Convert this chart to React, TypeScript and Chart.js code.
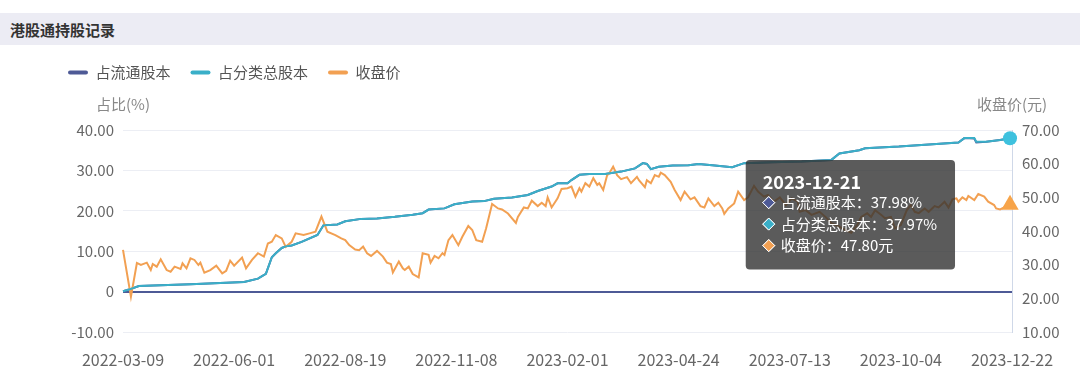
import React, { useEffect, useRef } from "react";
import { Chart, registerables, Tooltip } from "chart.js";

Chart.register(...registerables);

const FONT = "'Noto Sans CJK SC', 'Noto Sans', sans-serif";
Chart.defaults.font.family = FONT;

const pageTitle = "港股通持股记录";
const leftAxisName = "占比(%)";
const rightAxisName = "收盘价(元)";

// x tick labels (one every 56 trading days)
const tickLabels = [
  "2022-03-09", "2022-06-01", "2022-08-19", "2022-11-08", "2023-02-01",
  "2023-04-24", "2023-07-13", "2023-10-04", "2023-12-22",
];
const daysPerTick = 56;
const lastTradeDay = 447;
const lastTradeDate = "2023-12-21";

const seriesNames = ["占流通股本", "占分类总股本", "收盘价"];
const seriesColors = ["#4e5a96", "#3aafc8", "#f2a052"];

// holding ratio samples: trading-day index
const holdDays = [
  0, 3, 8, 19, 34, 49, 61, 68, 72, 75,
  77, 80, 82, 85, 90, 98, 101, 108, 112, 120,
  128, 137, 146, 151, 154, 162, 167, 176, 182, 187,
  196, 204, 209, 216, 219, 224, 226, 230, 235, 243,
  251, 258, 262, 264, 266, 270, 277, 285, 290, 297,
  307, 313, 327, 342, 357, 361, 371, 374, 391, 408,
  421, 424, 429, 430, 435, 442, 447,
];
// 占分类总股本 (%)
const classPct = [
  0.1, 0.5, 1.4, 1.6, 1.8, 2.1, 2.4, 3.2, 4.4, 8.5,
  9.5, 10.8, 11.2, 11.4, 12.3, 14.0, 16.4, 16.6, 17.4, 18.0,
  18.1, 18.5, 19.0, 19.4, 20.3, 20.6, 21.6, 22.3, 22.4, 23.0,
  23.3, 23.9, 24.9, 26.0, 26.8, 26.8, 27.6, 28.9, 29.1, 29.1,
  29.7, 30.5, 31.8, 31.6, 30.3, 30.9, 31.2, 31.3, 31.6, 31.3,
  30.8, 31.8, 32.0, 32.2, 32.6, 34.2, 35.0, 35.5, 35.9, 36.5,
  36.9, 38.0, 38.0, 37.1, 37.1, 37.5, 37.97,
];
// 占流通股本 (%)
const floatPct = [
  0.1, 0.5, 1.4, 1.6, 1.8, 2.1, 2.4, 3.2, 4.4, 8.5,
  9.5, 10.8, 11.2, 11.4, 12.3, 14.0, 16.4, 16.6, 17.4, 18.0,
  18.1, 18.5, 19.0, 19.4, 20.3, 20.6, 21.6, 22.3, 22.4, 23.0,
  23.3, 23.9, 24.9, 26.0, 26.8, 26.8, 27.6, 28.9, 29.1, 29.1,
  29.7, 30.5, 31.8, 31.6, 30.3, 30.9, 31.2, 31.3, 31.6, 31.3,
  30.8, 31.8, 32.0, 32.2, 32.6, 34.2, 35.0, 35.5, 35.9, 36.5,
  36.9, 38.0, 37.9, 36.9, 37.1, 37.5, 37.98,
];

// close price samples: trading-day index
const closeDays = [
  0, 4, 7, 9, 12, 14, 15, 17, 19, 22,
  24, 26, 29, 30, 32, 34, 36, 38, 39, 41,
  44, 47, 50, 52, 54, 56, 60, 62, 65, 68,
  71, 73, 75, 77, 80, 82, 85, 87, 91, 94,
  97, 100, 102, 103, 107, 110, 112, 114, 117, 119,
  121, 123, 125, 128, 131, 133, 135, 136, 139, 141,
  142, 144, 146, 149, 151, 154, 155, 157, 159, 161,
  162, 164, 166, 169, 171, 174, 176, 178, 181, 183,
  186, 189, 191, 194, 198, 199, 202, 204, 206, 209,
  211, 213, 214, 216, 219, 221, 224, 226, 228, 230,
  231, 233, 235, 237, 239, 240, 242, 244, 245, 247,
  249, 251, 254, 256, 259, 260, 263, 264, 266, 268,
  270, 271, 273, 276, 278, 281, 283, 286, 288, 291,
  293, 295, 298, 300, 302, 303, 305, 308, 310, 313,
  315, 318, 320, 323, 325, 328, 331, 334, 337, 340,
  341, 344, 347, 351, 354, 357, 361, 364, 367, 370,
  372, 375, 377, 379, 382, 384, 387, 389, 392, 395,
  397, 399, 401, 404, 406, 409, 411, 414, 416, 418,
  420, 421, 423, 425, 426, 429, 431, 434, 436, 439,
  440, 442, 444, 447,
];
// 收盘价 (元)
const closePrice = [
  34.4, 20.5, 30.5, 29.9, 30.6, 28.4, 30.2, 29.4, 31.6, 28.4,
  27.9, 29.4, 28.7, 30.4, 28.9, 31.9, 31.4, 29.9, 30.6, 27.6,
  28.4, 29.7, 27.4, 28.2, 31.2, 29.7, 32.1, 28.9, 31.4, 33.4,
  32.4, 36.3, 36.8, 38.8, 37.8, 35.3, 36.8, 39.3, 38.8, 39.3,
  39.8, 44.3, 41.3, 39.8, 38.8, 37.8, 37.3, 35.8, 34.5, 34.3,
  35.4, 33.4, 32.6, 34.1, 32.4, 30.6, 30.2, 27.7, 30.9, 28.9,
  28.4, 29.4, 27.2, 26.2, 33.4, 32.9, 30.6, 32.6, 31.9, 33.4,
  32.9, 37.3, 38.8, 35.8, 38.3, 41.5, 40.3, 37.3, 36.8, 40.8,
  48.0, 46.7, 46.4, 45.2, 42.4, 44.2, 47.0, 46.7, 49.0, 47.4,
  48.4, 47.4, 50.0, 47.0, 49.7, 52.5, 52.7, 53.2, 50.2, 52.7,
  51.7, 54.2, 53.2, 55.7, 53.7, 54.2, 52.2, 56.6, 57.1, 59.1,
  56.6, 55.4, 56.0, 54.2, 56.1, 55.1, 53.0, 55.1, 54.2, 56.6,
  56.1, 57.3, 56.6, 54.6, 52.2, 49.2, 51.7, 49.4, 50.0, 47.4,
  47.0, 49.7, 47.4, 48.4, 46.7, 45.1, 46.7, 48.2, 51.7, 49.2,
  50.0, 53.4, 51.7, 50.2, 50.7, 48.7, 50.0, 47.7, 49.7, 48.7,
  45.7, 46.2, 44.8, 45.7, 44.2, 42.3, 41.3, 40.3, 39.5, 41.8,
  44.2, 45.3, 44.2, 46.2, 44.8, 43.8, 44.2, 40.8, 41.8, 46.2,
  47.7, 45.7, 45.3, 46.7, 45.7, 47.4, 47.0, 48.7, 47.0, 49.4,
  49.7, 48.7, 50.0, 49.2, 50.4, 49.2, 51.0, 50.2, 48.7, 47.7,
  46.7, 46.4, 47.0, 47.8,
];

const pctTicks = { min: -10, max: 40, step: 10 };
const priceTicks = { min: 10, max: 70, step: 10 };

(Tooltip as any).positioners.besidePoint = function (items: any[]) {
  if (!items.length) return false;
  const ca = this.chart.chartArea;
  const el = items[0].element;
  return { x: el.x - 59, y: ca.top + 30, xAlign: "right", yAlign: "top" };
};

const dateForDay = (d: number) => {
  if (d === lastTradeDay) return lastTradeDate;
  if (d % daysPerTick === 0) return tickLabels[d / daysPerTick];
  return "";
};

const axisNamesPlugin = {
  id: "axisNames",
  afterDraw(chart: any) {
    const { ctx, chartArea } = chart;
    ctx.save();
    ctx.font = `15px ${FONT}`;
    ctx.fillStyle = "#888";
    ctx.textAlign = "center";
    ctx.textBaseline = "middle";
    ctx.fillText(leftAxisName, chartArea.left, chartArea.top - 26);
    ctx.fillText(rightAxisName, chartArea.right, chartArea.top - 26);
    ctx.restore();
  },
};

const legendSpacerPlugin = {
  id: "legendSpacer",
  beforeInit(chart: any) {
    const legend = chart.legend;
    if (!legend) return;
    const fit = legend.fit;
    legend.fit = function () {
      fit.call(this);
      this.height += 40;
    };
  },
};

export default function App() {
  const ref = useRef<HTMLCanvasElement | null>(null);

  useEffect(() => {
    if (!ref.current) return;
    const toPts = (xs: number[], ys: number[]) => xs.map((x, i) => ({ x, y: ys[i] }));
    const chart = new Chart(ref.current, {
      type: "line",
      data: {
        datasets: [
          {
            label: seriesNames[0],
            data: toPts(holdDays, floatPct),
            yAxisID: "y",
            borderColor: seriesColors[0],
            backgroundColor: seriesColors[0],
            borderWidth: 2,
            pointRadius: 0,
            pointHoverRadius: 0,
            tension: 0,
            clip: false,
            order: 3,
          },
          {
            label: seriesNames[1],
            data: toPts(holdDays, classPct),
            yAxisID: "y",
            borderColor: seriesColors[1],
            backgroundColor: seriesColors[1],
            borderWidth: 2,
            pointRadius: 0,
            pointStyle: "circle",
            pointHoverRadius: 7,
            pointHoverBackgroundColor: "#3ec1de",
            pointHoverBorderWidth: 0,
            tension: 0,
            clip: false,
            order: 1,
          },
          {
            label: seriesNames[2],
            data: toPts(closeDays, closePrice),
            yAxisID: "y2",
            borderColor: seriesColors[2],
            backgroundColor: seriesColors[2],
            borderWidth: 2,
            pointRadius: 0,
            pointStyle: "triangle",
            pointHoverRadius: 10,
            pointHoverBackgroundColor: "#f7a449",
            pointHoverBorderWidth: 0,
            tension: 0,
            clip: false,
            order: 2,
          },
        ] as any,
      },
      options: {
        animation: false,
        responsive: false,
        devicePixelRatio: 1,
        events: [],
        layout: { padding: { left: 48, right: 0, top: 0, bottom: 0 } },
        plugins: {
          legend: {
            display: true,
            position: "top",
            align: "start",
            labels: {
              boxWidth: 20,
              boxHeight: 4,
              padding: 20,
              color: "#555",
              font: { size: 15 },
              useBorderRadius: true,
              borderRadius: 2,
              generateLabels: (c: any) =>
                c.data.datasets.map((ds: any, i: number) => ({
                  text: ds.label,
                  fillStyle: seriesColors[i],
                  strokeStyle: seriesColors[i],
                  lineWidth: 0,
                  hidden: false,
                  datasetIndex: i,
                  borderRadius: 2,
                  fontColor: "#555",
                })),
            },
          },
          tooltip: {
            enabled: true,
            position: "besidePoint" as any,
            xAlign: "right",
            yAlign: "top",
            backgroundColor: "rgba(50,50,50,0.8)",
            titleColor: "#fff",
            bodyColor: "#fff",
            titleFont: { size: 18, weight: "bold" },
            bodyFont: { size: 15 },
            titleMarginBottom: 1,
            bodySpacing: 3.5,
            padding: { top: 11, bottom: 15, left: 17, right: 18 },
            cornerRadius: 4,
            caretSize: 0,
            caretPadding: 0,
            borderWidth: 0,
            displayColors: true,
            usePointStyle: true,
            boxWidth: 12,
            boxHeight: 12,
            boxPadding: 4,
            itemSort: (a: any, b: any) => a.datasetIndex - b.datasetIndex,
            callbacks: {
              title: (items: any[]) => (items.length ? dateForDay(items[0].parsed.x) : ""),
              label: (item: any) =>
                item.datasetIndex === 2
                  ? `${item.dataset.label}：${item.parsed.y.toFixed(2)}元`
                  : `${item.dataset.label}：${item.parsed.y.toFixed(2)}%`,
              labelColor: (item: any) => ({
                borderColor: "#ffffff",
                backgroundColor: seriesColors[item.datasetIndex],
                borderWidth: 1,
              }),
              labelPointStyle: () => ({ pointStyle: "rectRot", rotation: 0 }),
            },
          },
        },
        scales: {
          x: {
            type: "linear",
            min: 0,
            max: daysPerTick * (tickLabels.length - 1),
            grid: { display: false, drawTicks: false },
            border: { display: false },
            ticks: {
              stepSize: daysPerTick,
              autoSkip: false,
              maxRotation: 0,
              padding: 18,
              color: "#666",
              font: { size: 16 },
              callback: (v: any) => tickLabels[Math.round(Number(v) / daysPerTick)] ?? "",
            },
            afterFit: (s: any) => {
              s.height = 60;
            },
          },
          y: {
            position: "left",
            min: pctTicks.min,
            max: pctTicks.max,
            ticks: {
              stepSize: pctTicks.step,
              padding: 9,
              color: "#666",
              font: { size: 15 },
              callback: (v: any) => (Number(v) === 0 ? "0" : Number(v).toFixed(2)),
            },
            grid: {
              drawTicks: false,
              color: (c: any) => (c.tick && c.tick.value === 0 ? seriesColors[0] : "#eceef4"),
              lineWidth: (c: any) => (c.tick && c.tick.value === 0 ? 2 : 1),
            },
            border: { display: false },
            afterFit: (s: any) => {
              s.width = 75;
            },
          },
          y2: {
            position: "right",
            min: priceTicks.min,
            max: priceTicks.max,
            ticks: {
              stepSize: priceTicks.step,
              padding: 10,
              color: "#666",
              font: { size: 15 },
              callback: (v: any) => Number(v).toFixed(2),
            },
            grid: { display: false, drawTicks: false },
            border: { display: true, color: "#cfd8e8", width: 1 },
            afterFit: (s: any) => {
              s.width = 68;
            },
          },
        },
      } as any,
      plugins: [axisNamesPlugin, legendSpacerPlugin],
    });

    const active = [
      { datasetIndex: 0, index: holdDays.length - 1 },
      { datasetIndex: 1, index: holdDays.length - 1 },
      { datasetIndex: 2, index: closeDays.length - 1 },
    ];
    chart.setActiveElements(active);
    chart.tooltip?.setActiveElements(active, { x: 0, y: 0 });
    chart.update();

    return () => chart.destroy();
  }, []);

  return (
    <div style={{ width: 1080, height: 392, overflow: "hidden", background: "#fff" }}>
      <style>{"body{margin:0;overflow:hidden;}"}</style>
      <div
        style={{
          marginTop: 13,
          height: 32,
          background: "#ececf4",
          display: "flex",
          alignItems: "center",
          paddingLeft: 10,
          fontFamily: FONT,
          fontWeight: "bold",
          fontSize: 15,
          color: "#333",
        }}
      >
        {pageTitle}
      </div>
      <canvas ref={ref} width={1080} height={347} style={{ display: "block" }} />
    </div>
  );
}
